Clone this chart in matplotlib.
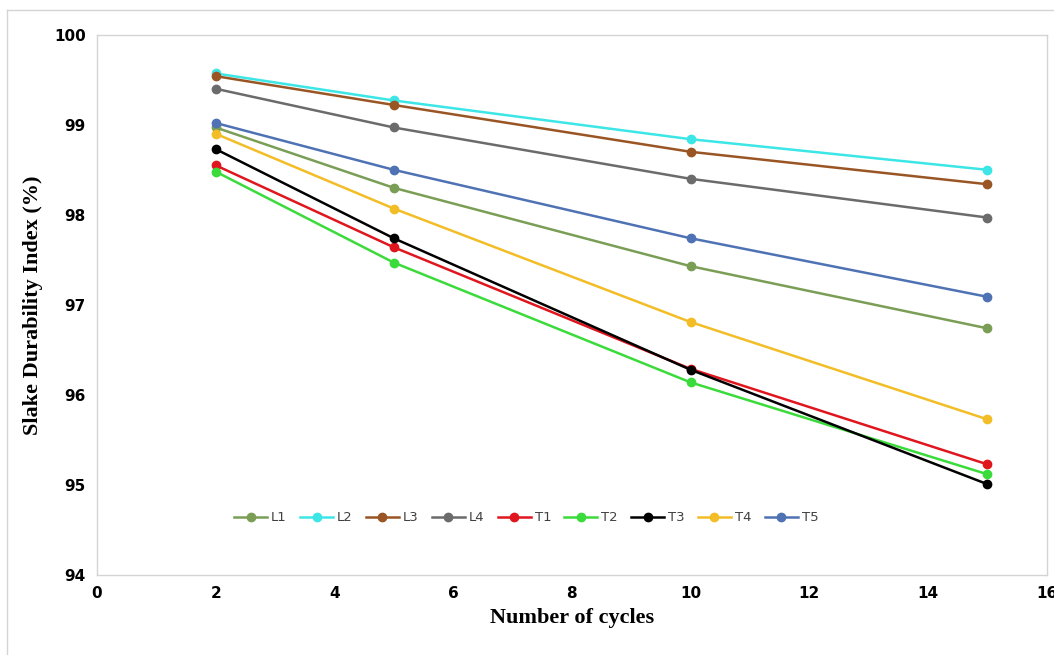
import matplotlib.pyplot as plt
from matplotlib.lines import Line2D

cycles = [2, 5, 10, 15]

L1 = [98.97, 98.30, 97.43, 96.74]
L2 = [99.57, 99.27, 98.84, 98.50]
L3 = [99.54, 99.22, 98.70, 98.34]
L4 = [99.40, 98.97, 98.40, 97.97]
T1 = [98.55, 97.64, 96.29, 95.23]
T2 = [98.48, 97.47, 96.14, 95.12]
T3 = [98.73, 97.74, 96.28, 95.01]
T4 = [98.90, 98.07, 96.81, 95.73]
T5 = [99.02, 98.50, 97.74, 97.09]

names = ["L1", "L2", "L3", "L4", "T1", "T2", "T3", "T4", "T5"]
series = [L1, L2, L3, L4, T1, T2, T3, T4, T5]
colors = ["#7A9E55", "#3CE6E6", "#9A5524", "#6B6B6B", "#E0161E",
          "#3ADB3A", "#000000", "#F2BD26", "#4F72B4"]

fig = plt.figure(figsize=(10.54, 6.55), dpi=100)
ax = fig.add_axes([0.092, 0.122, 0.901, 0.825])

for name, vals, c in zip(names, series, colors):
    ax.plot(cycles, vals, color=c, linewidth=1.8, marker="o",
            markersize=6, label=name)

ax.set_xlim(0, 16)
ax.set_ylim(94, 100)
ax.set_xticks(range(0, 17, 2))
ax.set_yticks(range(94, 101))
ax.tick_params(length=0, labelsize=11, pad=8)
for lab in ax.get_xticklabels() + ax.get_yticklabels():
    lab.set_fontweight("bold")
for s in ax.spines.values():
    s.set_color("#D4D4D4")
    s.set_linewidth(1.0)

ax.set_xlabel("Number of cycles", family="Liberation Serif",
              fontweight="bold", fontsize=16, labelpad=5)
ax.set_ylabel("Slake Durability Index (%)", family="Liberation Serif",
              fontweight="bold", fontsize=16, labelpad=8)

ax.legend(loc="upper left", bbox_to_anchor=(0.132, 0.14), ncol=9,
          frameon=False, fontsize=9.5, handlelength=2.5, columnspacing=1.0,
          handletextpad=0.3, labelcolor="#404040")

# outer chart border
fig.add_artist(Line2D([0.0066, 0.0066], [0.0, 0.985], color="#D4D4D4",
                      linewidth=1.0))
fig.add_artist(Line2D([0.0066, 1.0], [0.985, 0.985], color="#D4D4D4",
                      linewidth=1.0))

fig.savefig("out.png", dpi=100)
